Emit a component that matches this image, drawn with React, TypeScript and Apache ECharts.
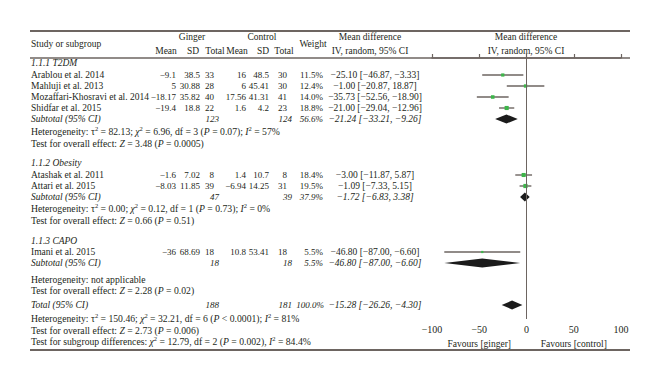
import React, { useEffect, useRef } from "react";
import * as echarts from "echarts";

// ---------- data ----------
const groupNames = ["1.1.1 T2DM", "1.1.2 Obesity", "1.1.3 CAPO"];
const studyNames = [
  "Arablou et al. 2014",
  "Mahluji et al. 2013",
  "Mozaffari-Khosravi et al. 2014",
  "Shidfar et al. 2015",
  "Atashak et al. 2011",
  "Attari et al. 2015",
  "Imani et al. 2015",
];
const gingerMean = [-9.1, 5, -18.17, -19.4, -1.6, -8.03, -36];
const gingerSD = [38.5, 30.88, 35.82, 18.8, 7.02, 11.85, 68.69];
const gingerN = [33, 28, 40, 22, 8, 39, 18];
const controlMean = [16, 6, 17.56, 1.6, 1.4, -6.94, 10.8];
const controlSD = [48.5, 45.41, 41.31, 4.2, 10.7, 14.25, 53.41];
const controlN = [30, 30, 41, 23, 8, 31, 18];
const studyWeight = [11.5, 12.4, 14.0, 18.8, 18.4, 19.5, 5.5];
const studyMD = [-25.1, -1.0, -35.73, -21.0, -3.0, -1.09, -46.8];
const studyLo = [-46.87, -20.87, -52.56, -29.04, -11.87, -7.33, -87.0];
const studyHi = [-3.33, 18.87, -18.9, -12.96, 5.87, 5.15, -6.6];

const subGingerN = [123, 47, 18];
const subControlN = [124, 39, 18];
const subWeight = [56.6, 37.9, 5.5];
const subMD = [-21.24, -1.72, -46.8];
const subLo = [-33.21, -6.83, -87.0];
const subHi = [-9.26, 3.38, -6.6];
const subHet = [
  "Heterogeneity: τ{s|2} = 82.13; {i|χ}{s|2} = 6.96, df = 3 ({i|P} = 0.07); {i|I}{s|2} = 57%",
  "Heterogeneity: τ{s|2} = 0.00; {i|χ}{s|2} = 0.12, df = 1 ({i|P} = 0.73); {i|I}{s|2} = 0%",
  "Heterogeneity: not applicable",
];
const subTest = [
  "Test for overall effect: {i|Z} = 3.48 ({i|P} = 0.0005)",
  "Test for overall effect: {i|Z} = 0.66 ({i|P} = 0.51)",
  "Test for overall effect: {i|Z} = 2.28 ({i|P} = 0.02)",
];

const totalGingerN = 188;
const totalControlN = 181;
const totalWeight = 100.0;
const totalMD = -15.28;
const totalLo = -26.26;
const totalHi = -4.3;
const totalHet =
  "Heterogeneity: τ{s|2} = 150.46; {i|χ}{s|2} = 32.21, df = 6 ({i|P} < 0.0001); {i|I}{s|2} = 81%";
const totalTest = "Test for overall effect: {i|Z} = 2.73 ({i|P} = 0.006)";
const subgroupTest =
  "Test for subgroup differences: {i|χ}{s|2} = 12.79, df = 2 ({i|P} = 0.002), {i|I}{s|2} = 84.4%";

const xTicks = [-100, -50, 0, 50, 100];
const favours = ["Favours [ginger]", "Favours [control]"];
const favoursAt = [-50, 50];

// ---------- layout (pixel rows) ----------
const groupHeaderY = [63, 163, 241];
const studyY = [75, 86, 97, 108, 175, 186, 252];
const subtotalY = [119, 197, 263];
const hetY = [131, 208, 279];
const testY = [143, 220, 290];
const totalY = 305;
const totalHetY = 318;
const totalTestY = 330;
const subgroupTestY = 341;
const topRuleY = 31;
const headRuleY = 58;
const bottomRuleY = 350;
const axisY = 319;
const ruleLeft = 30;
const ruleRight = 630;
const gridLeft = 432;
const gridRight = 621;

const FONT = "'Liberation Serif', 'Times New Roman', serif";
const INK = "#231f20";
const RULE = "#6d6561";
const GREEN = "#3db54a";
const FS = 9.5;
const FS_NUM = 9;
const FS_STAT = 9.7;

const minus = (s: string) => s.replace(/-/g, "−");
const num = (v: number) => minus(String(v));
const fx2 = (v: number) => minus(v.toFixed(2));
const ci = (m: number, l: number, h: number) => `${fx2(m)} [${fx2(l)}, ${fx2(h)}]`;
const pct = (w: number) => w.toFixed(1) + "%";

const richStyles = {
  s: { fontFamily: FONT, fontSize: 6.5, fill: INK, padding: [0, 0, 6, 0] },
  i: { fontFamily: FONT, fontSize: FS_STAT, fill: INK, fontStyle: "italic" },
};

function txt(x: number, y: number, text: string, align = "left", italic = false, size = FS) {
  return {
    type: "text",
    x,
    y,
    silent: true,
    style: {
      text,
      fill: INK,
      fontFamily: FONT,
      fontSize: size,
      fontStyle: italic ? "italic" : "normal",
      align,
      verticalAlign: "middle",
      rich: richStyles,
    },
  };
}

function rule(y: number, w: number) {
  return {
    type: "line",
    silent: true,
    shape: { x1: ruleLeft, y1: y, x2: ruleRight, y2: y },
    style: { stroke: RULE, lineWidth: w },
  };
}

const COL = { gm: 176, gsd: 200, gt: 214, cm: 246, csd: 269, ct: 287, w: 323, md: 375, sgt: 219, sct: 292 };

export default function App() {
  const ref = useRef<HTMLDivElement>(null);
  useEffect(() => {
    if (!ref.current) return;
    const chart = echarts.init(ref.current, null, { renderer: "svg" });
    const y0 = headRuleY;

    const graphics: any[] = [];
    graphics.push(rule(topRuleY, 2), rule(headRuleY, 1.5), rule(bottomRuleY, 2));
    // header
    graphics.push(txt(31, 44, "Study or subgroup"));
    graphics.push(txt(192, 37, "Ginger", "center"));
    graphics.push(txt(262, 37, "Control", "center"));
    [["Mean", 166], ["SD", 193], ["Total", 215], ["Mean", 237], ["SD", 263], ["Total", 284]].forEach(([t, x]) =>
      graphics.push(txt(x as number, 51, t as string, "center"))
    );
    graphics.push(txt(313, 44, "Weight", "center"));
    graphics.push(txt(370, 37, "Mean difference", "center"));
    graphics.push(txt(370, 51, "IV, random, 95% CI", "center"));
    graphics.push(txt(526, 37, "Mean difference", "center"));
    graphics.push(txt(526, 51, "IV, random, 95% CI", "center"));

    groupNames.forEach((g, k) => {
      graphics.push(txt(31, groupHeaderY[k], g, "left", true));
      graphics.push(txt(31, subtotalY[k], "Subtotal (95% CI)", "left", true));
      graphics.push(txt(COL.sgt, subtotalY[k], String(subGingerN[k]), "right", true, FS_NUM));
      graphics.push(txt(COL.sct, subtotalY[k], String(subControlN[k]), "right", true, FS_NUM));
      graphics.push(txt(COL.w, subtotalY[k], pct(subWeight[k]), "right", true, FS_NUM));
      graphics.push(txt(COL.md, subtotalY[k], ci(subMD[k], subLo[k], subHi[k]), "center", true));
      graphics.push(txt(31, hetY[k], subHet[k], "left", false, FS_STAT));
      graphics.push(txt(31, testY[k], subTest[k], "left", false, FS_STAT));
    });
    studyNames.forEach((n, i) => {
      const y = studyY[i];
      graphics.push(txt(31, y, n));
      graphics.push(txt(COL.gm, y, num(gingerMean[i]), "right", false, FS_NUM));
      graphics.push(txt(COL.gsd, y, num(gingerSD[i]), "right", false, FS_NUM));
      graphics.push(txt(COL.gt, y, String(gingerN[i]), "right", false, FS_NUM));
      graphics.push(txt(COL.cm, y, num(controlMean[i]), "right", false, FS_NUM));
      graphics.push(txt(COL.csd, y, num(controlSD[i]), "right", false, FS_NUM));
      graphics.push(txt(COL.ct, y, String(controlN[i]), "right", false, FS_NUM));
      graphics.push(txt(COL.w, y, pct(studyWeight[i]), "right", false, FS_NUM));
      graphics.push(txt(COL.md, y, ci(studyMD[i], studyLo[i], studyHi[i]), "center"));
    });
    graphics.push(txt(31, totalY, "Total (95% CI)", "left", true));
    graphics.push(txt(COL.sgt, totalY, String(totalGingerN), "right", true, FS_NUM));
    graphics.push(txt(COL.sct, totalY, String(totalControlN), "right", true, FS_NUM));
    graphics.push(txt(COL.w + 1, totalY, pct(totalWeight), "right", true, FS_NUM));
    graphics.push(txt(COL.md, totalY, ci(totalMD, totalLo, totalHi), "center", true));
    graphics.push(txt(31, totalHetY, totalHet, "left", false, FS_STAT));
    graphics.push(txt(31, totalTestY, totalTest, "left", false, FS_STAT));
    graphics.push(txt(31, subgroupTestY, subgroupTest, "left", false, FS_STAT));

    const ciData = studyNames.map((_, i) => [studyLo[i], studyHi[i], studyMD[i], studyY[i] - y0, studyWeight[i]]);
    const diamondData = [
      ...subMD.map((m, k) => [subLo[k], subHi[k], m, subtotalY[k] - y0]),
      [totalLo, totalHi, totalMD, totalY - y0],
    ];

    const option: any = {
      animation: false,
      backgroundColor: "#ffffff",
      grid: { left: gridLeft, right: 660 - gridRight, top: headRuleY, bottom: 384 - axisY },
      xAxis: {
        type: "value",
        min: xTicks[0],
        max: xTicks[xTicks.length - 1],
        interval: 50,
        axisLine: { show: true, lineStyle: { color: RULE, width: 1.5 } },
        axisTick: { show: true, inside: true, length: 4, lineStyle: { color: RULE, width: 1.2 } },
        axisLabel: {
          color: INK,
          fontFamily: FONT,
          fontSize: 10,
          margin: 5,
          formatter: (v: number) => num(v),
        },
        splitLine: { show: false },
      },
      yAxis: { type: "value", min: 0, max: axisY - headRuleY, inverse: true, show: false },
      series: [
        {
          type: "custom",
          silent: true,
          clip: false,
          data: ciData,
          encode: { x: [0, 1, 2], y: 3 },
          renderItem: (_p: any, api: any) => {
            const lo = api.coord([api.value(0), api.value(3)]);
            const hi = api.coord([api.value(1), api.value(3)]);
            const mid = api.coord([api.value(2), api.value(3)]);
            const s = Math.sqrt(api.value(4)) * 0.95;
            return {
              type: "group",
              children: [
                {
                  type: "line",
                  shape: { x1: lo[0], y1: lo[1], x2: hi[0], y2: hi[1] },
                  style: { stroke: RULE, lineWidth: 1.4 },
                },
                {
                  type: "rect",
                  shape: { x: mid[0] - s / 2, y: mid[1] - s / 2, width: s, height: s },
                  style: { fill: GREEN },
                },
              ],
            };
          },
          markLine: {
            silent: true,
            symbol: "none",
            label: { show: false },
            lineStyle: { color: RULE, width: 1, type: "solid" },
            data: [{ xAxis: 0 }],
          },
          z: 3,
        },
        {
          type: "custom",
          silent: true,
          clip: false,
          data: diamondData,
          encode: { x: [0, 1, 2], y: 3 },
          renderItem: (_p: any, api: any) => {
            const lo = api.coord([api.value(0), api.value(3)]);
            const hi = api.coord([api.value(1), api.value(3)]);
            const mid = api.coord([api.value(2), api.value(3)]);
            const h = 4.5;
            return {
              type: "polygon",
              shape: {
                points: [
                  [lo[0], lo[1]],
                  [mid[0], mid[1] - h],
                  [hi[0], hi[1]],
                  [mid[0], mid[1] + h],
                ],
              },
              style: { fill: "#1b1b1b" },
            };
          },
          z: 4,
        },
      ],
      graphic: graphics,
    };
    chart.setOption(option);

    const favY = 344;
    const favGraphics = favours.map((f, k) => {
      const px = chart.convertToPixel({ xAxisIndex: 0 }, favoursAt[k]) as number;
      return txt(px, favY, f, "center");
    });
    chart.setOption({ graphic: [...graphics, ...favGraphics] });

    return () => chart.dispose();
  }, []);

  return (
    <div
      ref={ref}
      style={{ position: "fixed", left: 0, top: 0, width: 660, height: 384, background: "#fff" }}
    />
  );
}
